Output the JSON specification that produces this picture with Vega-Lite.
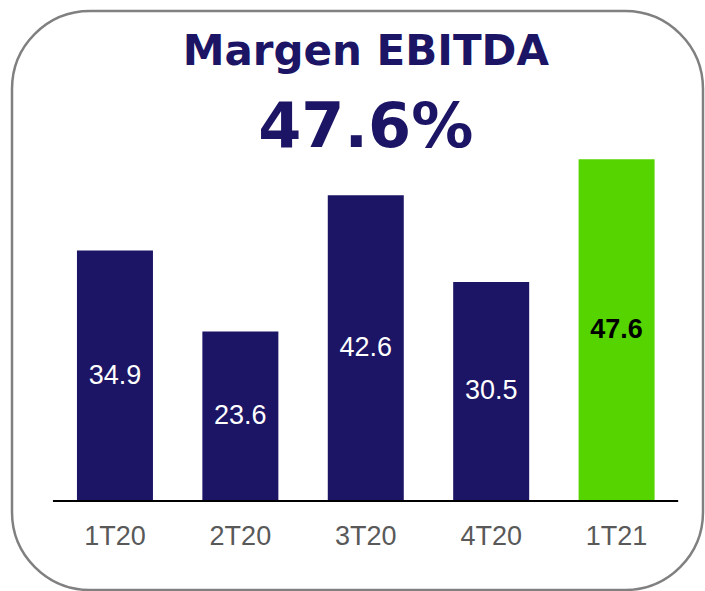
{
  "$schema": "https://vega.github.io/schema/vega-lite/v6.json",
  "width": 691,
  "height": 579,
  "autosize": {"type": "none"},
  "padding": {"left": 12, "top": 11, "right": 2, "bottom": 1},
  "background": "white",
  "view": {"stroke": "#808080", "strokeWidth": 2.5, "cornerRadius": 78, "fill": "white"},
  "datasets": {
    "bars": [
      {"q": "1T20", "value": 34.9},
      {"q": "2T20", "value": 23.6},
      {"q": "3T20", "value": 42.6},
      {"q": "4T20", "value": 30.5},
      {"q": "1T21", "value": 47.6}
    ],
    "heading": [
      {"title": "Margen EBITDA", "kpi": "47.6%"}
    ]
  },
  "data": {"name": "bars"},
  "encoding": {
    "x": {
      "field": "q",
      "type": "nominal",
      "sort": null,
      "scale": {"paddingInner": 0.394, "paddingOuter": 0.452, "align": 0.573},
      "axis": {
        "title": null,
        "domain": false,
        "ticks": false,
        "grid": false,
        "labelAngle": 0,
        "labelFont": "Liberation Sans",
        "labelFontSize": 27,
        "labelColor": "#595959",
        "labelPadding": 43,
        "labelBaseline": "alphabetic",
        "offset": -89
      }
    }
  },
  "layer": [
    {
      "mark": {"type": "bar"},
      "encoding": {
        "y": {"field": "value", "type": "quantitative", "scale": {"domain": [-12.4, 68.25], "zero": false, "nice": false}, "axis": null},
        "y2": {"datum": 0},
        "color": {
          "field": "q",
          "type": "nominal",
          "scale": {"domain": ["1T20", "2T20", "3T20", "4T20", "1T21"], "range": ["#1c1464", "#1c1464", "#1c1464", "#1c1464", "#55d400"]},
          "legend": null
        }
      }
    },
    {
      "data": {"values": [{}]},
      "mark": {"type": "rule", "color": "#000000", "strokeWidth": 2},
      "encoding": {
        "x": {"datum": "1T20", "bandPosition": -0.316},
        "x2": {"datum": "1T21", "bandPosition": 1.31},
        "y": {"datum": 0, "type": "quantitative", "scale": {"domain": [-12.4, 68.25], "zero": false, "nice": false}, "axis": null}
      }
    },
    {
      "transform": [{"filter": "datum.q != '1T21'"}],
      "mark": {"type": "text", "font": "Liberation Sans", "fontSize": 27, "color": "#ffffff", "baseline": "middle", "align": "center"},
      "encoding": {
        "y": {"field": "value", "type": "quantitative", "scale": {"domain": [-24.8, 136.5], "zero": false, "nice": false}, "axis": null},
        "text": {"field": "value", "type": "quantitative", "format": ".1f"}
      }
    },
    {
      "transform": [{"filter": "datum.q == '1T21'"}],
      "mark": {"type": "text", "font": "Liberation Sans", "fontSize": 27, "fontWeight": "bold", "color": "#000000", "baseline": "middle", "align": "center"},
      "encoding": {
        "y": {"field": "value", "type": "quantitative", "scale": {"domain": [-24.8, 136.5], "zero": false, "nice": false}, "axis": null},
        "text": {"field": "value", "type": "quantitative", "format": ".1f"}
      }
    },
    {
      "data": {"name": "heading"},
      "mark": {"type": "text", "font": "DejaVu Sans", "fontSize": 42, "fontWeight": "bold", "color": "#1c1464", "baseline": "alphabetic", "align": "center"},
      "encoding": {
        "x": {"datum": "3T20"},
        "y": {"datum": 60.73, "type": "quantitative", "scale": {"domain": [-12.4, 68.25], "zero": false, "nice": false}, "axis": null},
        "text": {"field": "title", "type": "nominal"}
      }
    },
    {
      "data": {"name": "heading"},
      "mark": {"type": "text", "font": "DejaVu Sans", "fontSize": 62, "fontWeight": "bold", "color": "#1c1464", "baseline": "alphabetic", "align": "center"},
      "encoding": {
        "x": {"datum": "3T20"},
        "y": {"datum": 49.27, "type": "quantitative", "scale": {"domain": [-12.4, 68.25], "zero": false, "nice": false}, "axis": null},
        "text": {"field": "kpi", "type": "nominal"}
      }
    }
  ],
  "resolve": {"scale": {"y": "independent"}}
}
